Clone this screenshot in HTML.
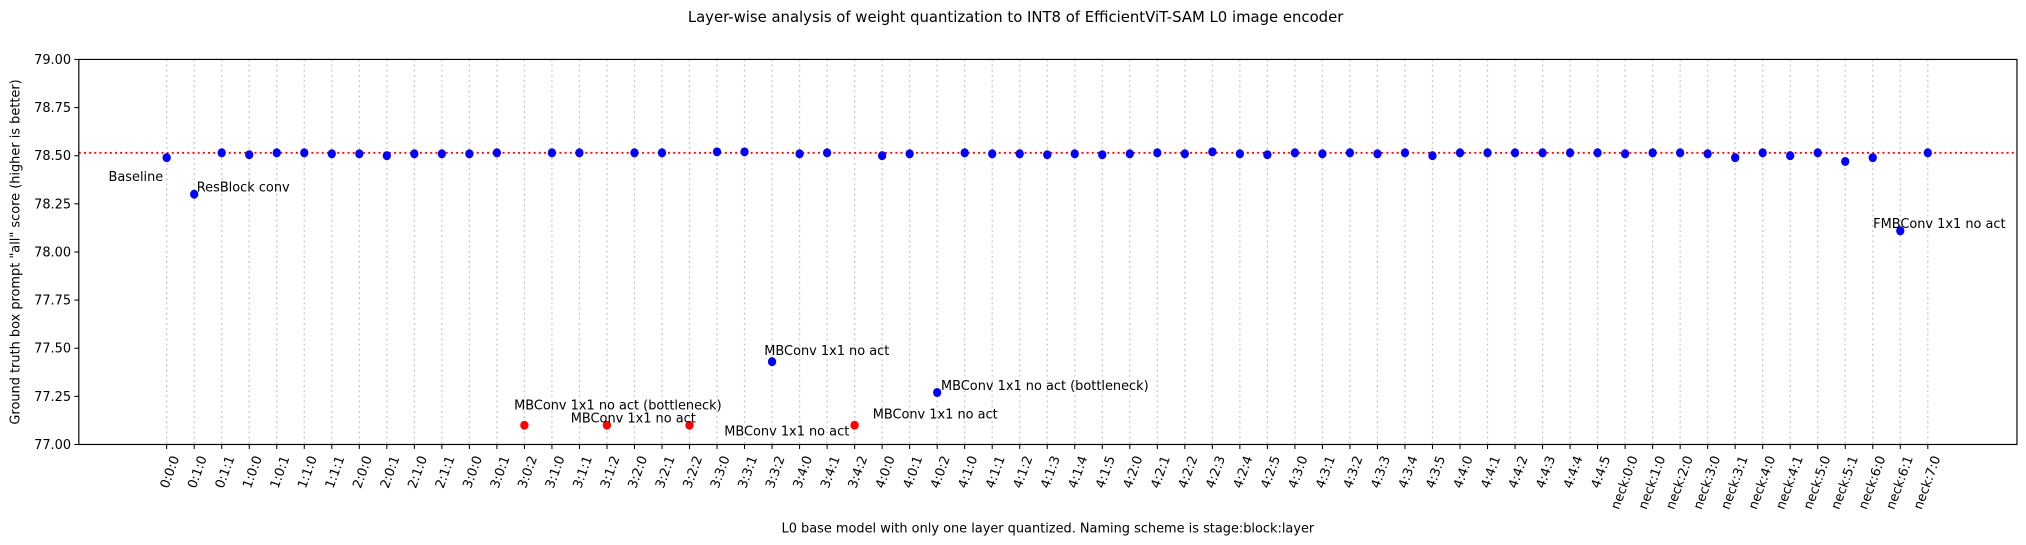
<!DOCTYPE html>
<html><head><meta charset="utf-8"><style>
body{margin:0;background:#fff}
svg{display:block}
svg text{font-family:"DejaVu Sans","Liberation Sans",sans-serif;fill:#000}
</style></head><body>
<svg id="chart" width="2026" height="545" viewBox="0 0 1568 421.8" preserveAspectRatio="none" xmlns="http://www.w3.org/2000/svg">
<rect x="0" y="0" width="1568" height="422" fill="#fff"/>
<text x="786" y="17" font-size="11.5" text-anchor="middle">Layer-wise analysis of weight quantization to INT8 of EfficientViT-SAM L0 image encoder</text>
<g id="grid"></g>
<g id="marks"></g>
<g id="axes"></g>
<text x="811" y="412" font-size="10" text-anchor="middle">L0 base model with only one layer quantized. Naming scheme is stage:block:layer</text>
<text transform="translate(15,195) rotate(-90)" font-size="10" text-anchor="middle">Ground truth box prompt "all" score (higher is better)</text>
</svg>
<script>
const categories=["0:0:0","0:1:0","0:1:1","1:0:0","1:0:1","1:1:0","1:1:1","2:0:0","2:0:1","2:1:0","2:1:1","3:0:0","3:0:1","3:0:2","3:1:0","3:1:1","3:1:2","3:2:0","3:2:1","3:2:2","3:3:0","3:3:1","3:3:2","3:4:0","3:4:1","3:4:2","4:0:0","4:0:1","4:0:2","4:1:0","4:1:1","4:1:2","4:1:3","4:1:4","4:1:5","4:2:0","4:2:1","4:2:2","4:2:3","4:2:4","4:2:5","4:3:0","4:3:1","4:3:2","4:3:3","4:3:4","4:3:5","4:4:0","4:4:1","4:4:2","4:4:3","4:4:4","4:4:5","neck:0:0","neck:1:0","neck:2:0","neck:3:0","neck:3:1","neck:4:0","neck:4:1","neck:5:0","neck:5:1","neck:6:0","neck:6:1","neck:7:0"];
const scores=[78.49,78.30,78.515,78.505,78.515,78.515,78.51,78.51,78.50,78.51,78.51,78.51,78.515,77.10,78.515,78.515,77.10,78.515,78.515,77.10,78.52,78.52,77.43,78.51,78.515,77.10,78.50,78.51,77.27,78.515,78.51,78.51,78.505,78.51,78.505,78.51,78.515,78.51,78.52,78.51,78.505,78.515,78.51,78.515,78.51,78.515,78.50,78.515,78.515,78.515,78.515,78.515,78.515,78.51,78.515,78.515,78.51,78.49,78.515,78.50,78.515,78.47,78.49,78.11,78.515];
const isRed=[0,0,0,0,0,0,0,0,0,0,0,0,0,1,0,0,1,0,0,1,0,0,0,0,0,1,0,0,0,0,0,0,0,0,0,0,0,0,0,0,0,0,0,0,0,0,0,0,0,0,0,0,0,0,0,0,0,0,0,0,0,0,0,0,0];
const baseline=[78.515];
const yTicks=[77.00,77.25,77.50,77.75,78.00,78.25,78.50,78.75,79.00];
const annotIdx=[0,1,13,16,22,22,28,25,63];
const annotText=["Baseline","ResBlock conv","MBConv 1x1 no act (bottleneck)","MBConv 1x1 no act","MBConv 1x1 no act","MBConv 1x1 no act","MBConv 1x1 no act (bottleneck)","MBConv 1x1 no act","FMBConv 1x1 no act"];
const annotDx=[-45,2,-8,-28,-37,-6,3,14,-21];
const annotDy=[18,-2,-12,-2,57,-5,-2,-5,-2];

const L=61,R=1561,T=46,B=344,Y0=77,Y1=79;
const x0=129,dx=(1492-129)/64;
const X=i=>x0+i*dx;
const Y=v=>B-(v-Y0)/(Y1-Y0)*(B-T);
const NS="http://www.w3.org/2000/svg";
function mk(t,a,p){const e=document.createElementNS(NS,t);for(const k in a)e.setAttribute(k,a[k]);p.appendChild(e);return e;}
const grid=document.getElementById('grid'),marks=document.getElementById('marks'),axes=document.getElementById('axes');
categories.forEach((c,i)=>{
  const g=mk('line',{x1:X(i),x2:X(i),y1:T,y2:B,stroke:'#c8c8c8','stroke-width':1,'stroke-dasharray':'1.5,2.5'},grid);
  
  
  const tk=mk('line',{x1:X(i),x2:X(i),y1:B,y2:B+3.5,stroke:'#000','stroke-width':0.8},axes);
  
  
  const t=mk('text',{transform:`translate(${X(i)+3.5},${B+8}) rotate(-70)`,'font-size':10,'text-anchor':'end','dominant-baseline':'hanging'},axes);
  t.textContent=c;
  
  
});
const bl=mk('line',{x1:L,x2:R,y1:Y(baseline[0]),y2:Y(baseline[0]),stroke:'#f00','stroke-width':1.5,'stroke-dasharray':'1.5,2.5'},marks);


scores.forEach((v,i)=>{
  const c=mk('ellipse',{cx:X(i),cy:Y(v),rx:3.2,ry:3.5,fill:isRed[i]?'#f00':'#00f'},marks);
  
  
});
annotIdx.forEach((k,j)=>{
  const t=mk('text',{x:X(k)+annotDx[j],y:Y(scores[k])+annotDy[j],'font-size':10},marks);
  t.textContent=annotText[j];
  
  
});
const fr=mk('rect',{x:L,y:T,width:R-L,height:B-T,fill:'none',stroke:'#000','stroke-width':0.9},axes);


yTicks.forEach(v=>{
  const tk=mk('line',{x1:L-3.5,x2:L,y1:Y(v),y2:Y(v),stroke:'#000','stroke-width':0.8},axes);
  
  
  const t=mk('text',{x:L-6,y:Y(v)+3.5,'font-size':10,'text-anchor':'end'},axes);
  t.textContent=v.toFixed(2);
  
  
});
</script>
</body></html>
